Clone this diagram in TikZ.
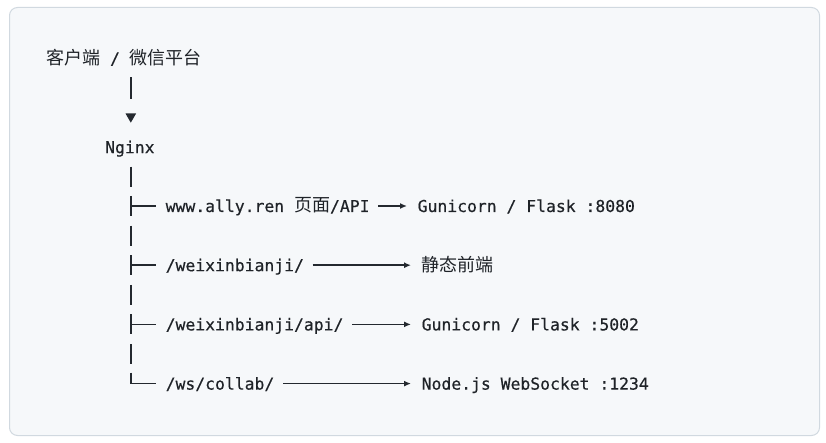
\documentclass[tikz,border=0pt]{standalone}
\usepackage{fontspec}
\setmonofont[FakeBold=0.4]{DejaVu Sans Mono}
\newfontfamily\cjkfont{Noto Sans CJK SC}
\newcommand\zh[1]{{\cjkfont\fontsize{18}{18}\selectfont #1}}
\usetikzlibrary{arrows.meta}
\definecolor{bg}{HTML}{F6F8FA}
\definecolor{frame}{HTML}{D1D9E0}
\definecolor{fg}{HTML}{1F2328}
\definecolor{ln}{HTML}{24292F}
\tikzset{
  txt/.style={font=\ttfamily\fontsize{16.4}{18}\selectfont, text=fg, inner sep=0pt,
    anchor=base west, text height=14pt, text depth=2pt},
  tree/.style={draw=ln, line width=1.6pt},
  arr/.style={draw=ln, line width=1.6pt, -{Latex[length=7pt,width=6pt]},
    shorten <=8.5pt, shorten >=10.5pt},
}
\begin{document}
\begin{tikzpicture}[x=1pt,y=-1pt]
\useasboundingbox (0,0) rectangle (826,443);
\fill[white] (0,0) rectangle (826,443);
\draw[fill=bg, draw=frame, line width=1pt, rounded corners=8pt] (9.5,7.5) rectangle (819.5,435.5);

% text nodes (baseline = row centre + 6)
\node[txt] (client) at (46,64.4) {\zh{客户端} / \zh{微信平台}};
\node[txt] (nginx) at (105,153.2) {Nginx};
\node[txt] (p1) at (165.5,212.0) {www.ally.ren \zh{页面}/API};
\node[txt] (t1) at (417.5,212.0) {Gunicorn / Flask :8080};
\node[txt] (p2) at (165.5,271.2) {/weixinbianji/};
\node[txt] (t2) at (421.5,271.2) {\zh{静态前端}};
\node[txt] (p3) at (165.5,330.4) {/weixinbianji/api/};
\node[txt] (t3) at (421.5,330.4) {Gunicorn / Flask :5002};
\node[txt] (p4) at (165.5,389.6) {/ws/collab/};
\node[txt] (t4) at (421.5,389.6) {Node.js WebSocket :1234};

% trunk coordinates
\coordinate (v1) at (130.8,87.8);
\coordinate (tri) at (130.8,118);
\coordinate (v2) at (130.8,176.6);
\coordinate (b1) at (130.8,205.8);
\coordinate (v3) at (130.8,235.6);
\coordinate (b2) at (130.8,265.2);
\coordinate (v4) at (130.8,294.8);
\coordinate (b3) at (130.8,324.4);
\coordinate (v5) at (130.8,354.0);
\coordinate (b4) at (130.8,383.6);

% client -> nginx
\draw[tree] (v1) ++(0,-10.5) -- ++(0,21.5);
\fill[ln] (tri) ++(-5.3,-4.5) -- ++(10.6,0) -- ++(-5.3,9.2) -- cycle;

% tree below nginx
\foreach \v in {v2,v3,v4,v5} \draw[tree] (\v) ++(0,-10) -- ++(0,20);
\foreach \b/\p in {b1/p1,b2/p2,b3/p3} {
  \draw[tree] (\b) ++(0,-10) -- ++(0,20);
  \draw[tree, shorten >=9.5pt] (\b) -- (\b -| \p.west);
}
\draw[tree, shorten >=9.5pt] (b4) ++(0,-11) -- (b4) -- (b4 -| p4.west);

% arrows
\draw[arr] (p1.east) -- (t1.west);
\draw[arr] (p2.east) -- (t2.west);
\draw[arr] (p3.east) -- (t3.west);
\draw[arr] (p4.east) -- (t4.west);
\end{tikzpicture}
\end{document}
